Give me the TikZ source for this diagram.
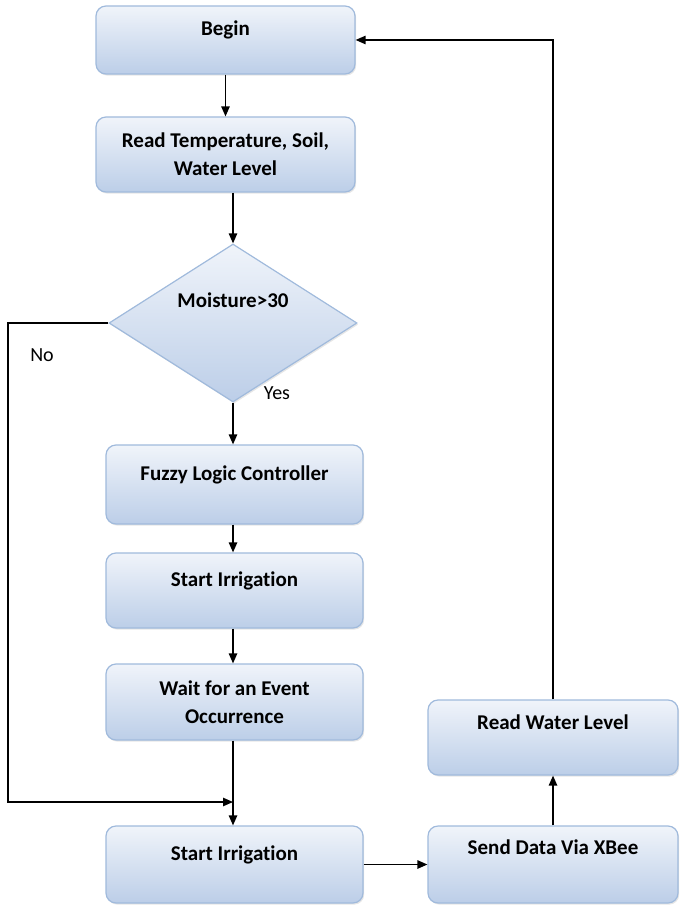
\documentclass[tikz,border=0pt]{standalone}
\usepackage{fontspec}
\setmainfont{Carlito}[Ligatures=NoCommon]
\usepackage{tikz}
\usetikzlibrary{positioning,arrows.meta,shapes.geometric,shadows}
\definecolor{boxtop}{RGB}{240,244,250}
\definecolor{boxbot}{RGB}{188,206,232}
\definecolor{boxline}{RGB}{160,186,220}
\tikzset{
  box/.style={rectangle,rounded corners=5pt,draw=boxline,line width=0.6pt,top color=boxtop,bottom color=boxbot,
    drop shadow={opacity=0.2,shadow xshift=0.6pt,shadow yshift=-0.8pt},
    font=\fontsize{10.5}{14}\selectfont\bfseries,align=center,minimum width=128.5pt,inner sep=0pt},
  tbox/.style={box,text height=7pt,text depth=11pt},
  dbox/.style={diamond,aspect=1.57,draw=boxline,line width=0.6pt,top color=boxtop,bottom color=boxbot,
    drop shadow={opacity=0.2,shadow xshift=0.6pt,shadow yshift=-0.8pt},
    font=\fontsize{10.5}{14}\selectfont\bfseries,minimum width=124pt,minimum height=79pt,inner sep=0pt,
    text height=7pt,text depth=22pt},
  arr/.style={line width=0.7pt,-{Triangle[length=5pt,width=4.2pt]}},
  lab/.style={font=\fontsize{10}{12}\selectfont}
}
\begin{document}
\begin{tikzpicture}[x=0.5pt,y=-0.5pt]
  \useasboundingbox (0,0) rectangle (680,908);
  \node[tbox,minimum width=129.5pt,minimum height=34pt] (begin) at (225.5,40) {Begin};
  \node[box,minimum width=129.5pt,minimum height=37.5pt] (read) at (225.5,154.5) {Read Temperature, Soil,\\Water Level};
  \node[dbox] (moist) at (233,323) {Moisture>30};
  \node[tbox,minimum height=39.5pt] (fuzzy) at (234.5,484.5) {Fuzzy Logic Controller};
  \node[tbox,minimum height=37.5pt] (irr) at (234.5,590.5) {Start Irrigation};
  \node[box,minimum height=38pt] (wait) at (234.5,702) {Wait for an Event\\Occurrence};
  \node[tbox,minimum height=38.5pt] (irrb) at (234.5,864.5) {Start Irrigation};
  \node[tbox,minimum width=125pt,minimum height=38.5pt,text depth=17pt] (send) at (553,864.5) {Send Data Via XBee};
  \node[tbox,minimum width=125pt,minimum height=37.5pt,text depth=15pt] (level) at (553,737.5) {Read Water Level};
  \coordinate (noleft) at (8,323);
  \coordinate (merge) at (233,802);
  \node[lab] (yes) at (277,393) {Yes};
  \node[lab] (no) at (42,355) {No};
  \draw[arr] (begin) -- (read);
  \draw[arr] (read.south -| moist.north) -- (moist.north);
  \draw[arr] (moist.south) -- (moist.south |- fuzzy.north);
  \draw[arr] (fuzzy.south -| moist.south) -- (irr.north -| moist.south);
  \draw[arr] (irr.south -| moist.south) -- (wait.north -| moist.south);
  \draw[arr] (wait.south -| moist.south) -- (irrb.north -| moist.south);
  \draw[arr] (moist.west) -- (noleft) |- (merge);
  \draw[arr] (irrb.east) -- (send.west);
  \draw[arr] (send.north) -- (level.south);
  \draw[arr] (level.north) |- (begin.east);
\end{tikzpicture}
\end{document}
